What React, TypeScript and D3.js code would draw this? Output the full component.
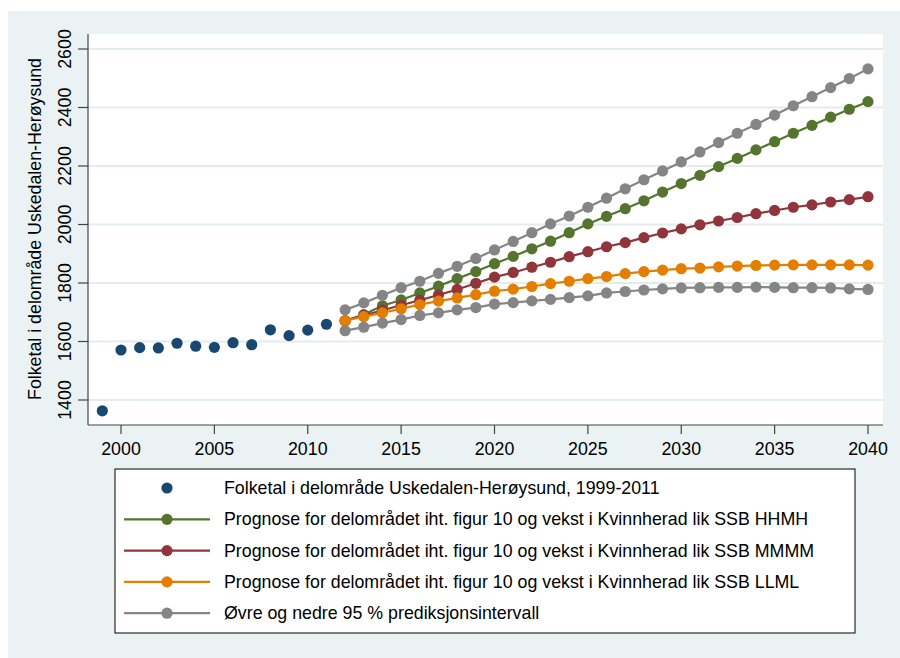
import React from "react";
import * as d3 from "d3";

const obsYears = [1999, 2000, 2001, 2002, 2003, 2004, 2005, 2006, 2007, 2008, 2009, 2010, 2011];
const obsValues = [1363, 1571, 1579, 1578, 1594, 1584, 1580, 1596, 1589, 1640, 1620, 1639, 1659];

const projYears = d3.range(2012, 2041);
const hhmh = [1671, 1692, 1722, 1742, 1766, 1789, 1815, 1839, 1866, 1891, 1917, 1943, 1972, 2002, 2028, 2054, 2081, 2111, 2140, 2168, 2198, 2226, 2255, 2283, 2312, 2339, 2367, 2394, 2420];
const mmmm = [1671, 1689, 1707, 1724, 1741, 1759, 1778, 1799, 1820, 1836, 1854, 1871, 1890, 1907, 1924, 1938, 1955, 1971, 1985, 1999, 2012, 2024, 2037, 2048, 2059, 2067, 2077, 2085, 2095];
const llml = [1671, 1685, 1698, 1712, 1726, 1738, 1749, 1760, 1772, 1779, 1788, 1798, 1806, 1815, 1822, 1832, 1839, 1844, 1849, 1851, 1855, 1858, 1860, 1861, 1862, 1862, 1862, 1862, 1861];
const upper = [1708, 1732, 1758, 1784, 1806, 1833, 1857, 1884, 1913, 1942, 1972, 2002, 2029, 2059, 2090, 2122, 2153, 2183, 2214, 2248, 2280, 2312, 2342, 2374, 2406, 2437, 2468, 2499, 2532];
const lower = [1637, 1649, 1663, 1675, 1689, 1698, 1708, 1716, 1728, 1733, 1739, 1744, 1750, 1756, 1766, 1771, 1776, 1780, 1783, 1784, 1785, 1785, 1786, 1785, 1784, 1784, 1783, 1780, 1778];

const xTicks = [2000, 2005, 2010, 2015, 2020, 2025, 2030, 2035, 2040];
const yTicks = [1400, 1600, 1800, 2000, 2200, 2400, 2600];

const yTitle = "Folketal i delområde Uskedalen-Herøysund";
const legendLabels = [
  "Folketal i delområde Uskedalen-Herøysund, 1999-2011",
  "Prognose for delområdet iht. figur 10 og vekst i Kvinnherad lik SSB HHMH",
  "Prognose for delområdet iht. figur 10 og vekst i Kvinnherad lik SSB MMMM",
  "Prognose for delområdet iht. figur 10 og vekst i Kvinnherad lik SSB LLML",
  "Øvre og nedre 95 % prediksjonsintervall",
];

const NAVY = "#1a476f";
const GREEN = "#55752f";
const RED = "#90353b";
const ORANGE = "#e37e00";
const GREY = "#858585";
const BG = "#eaf2f3";
const GRID = "#e3ebed";
const FONT = "'Liberation Sans', Arial, Helvetica, sans-serif";
const FS = 17.8;

export default function App() {
  const W = 900, H = 658;
  const plot = { left: 88, right: 883, top: 34, bottom: 425 };
  const x = d3.scaleLinear().domain([2000, 2040]).range([121, 868]);
  const y = d3.scaleLinear().domain([1400, 2600]).range([400, 49]);
  const line = d3.line<[number, number]>().x((d) => x(d[0])).y((d) => y(d[1]));

  const series = [
    { vals: hhmh, color: GREEN },
    { vals: mmmm, color: RED },
    { vals: llml, color: ORANGE },
    { vals: upper, color: GREY },
    { vals: lower, color: GREY },
  ];
  const r = 5.6;

  const legendColors = [NAVY, GREEN, RED, ORANGE, GREY];
  const lg = { left: 115, right: 855, top: 469, bottom: 633 };
  const rowY = (i: number) => 488 + i * 31.3;

  return (
    <svg width={W} height={H} style={{ position: "absolute", left: 0, top: 0 }} fontFamily={FONT}>
      <rect x={8} y={11} width={W - 8} height={H - 11} fill={BG} />
      <rect x={plot.left} y={plot.top} width={plot.right - plot.left} height={plot.bottom - plot.top} fill="#ffffff" />
      {yTicks.map((t) => (
        <line key={"g" + t} x1={plot.left} x2={plot.right} y1={y(t)} y2={y(t)} stroke={GRID} strokeWidth={2} />
      ))}
      {/* axes */}
      <line x1={plot.left} x2={plot.left} y1={plot.top} y2={plot.bottom} stroke="#444" strokeWidth={1.2} />
      <line x1={plot.left} x2={plot.right} y1={plot.bottom} y2={plot.bottom} stroke="#444" strokeWidth={1.2} />
      {yTicks.map((t) => (
        <g key={"yt" + t}>
          <line x1={plot.left - 10} x2={plot.left} y1={y(t)} y2={y(t)} stroke="#444" strokeWidth={1.2} />
          <text transform={`translate(71,${y(t)}) rotate(-90)`} textAnchor="middle" fontSize={FS} fill="#000">
            {t}
          </text>
        </g>
      ))}
      {xTicks.map((t) => (
        <g key={"xt" + t}>
          <line x1={x(t)} x2={x(t)} y1={plot.bottom} y2={plot.bottom + 9} stroke="#444" strokeWidth={1.2} />
          <text x={x(t)} y={455} textAnchor="middle" fontSize={FS} fill="#000">
            {t}
          </text>
        </g>
      ))}
      <text transform={`translate(41,229) rotate(-90)`} textAnchor="middle" fontSize={FS} fill="#000">
        {yTitle}
      </text>

      {/* observed */}
      {obsYears.map((yr, i) => (
        <circle key={"o" + yr} cx={x(yr)} cy={y(obsValues[i])} r={r} fill={NAVY} />
      ))}

      {/* projections */}
      {series.map((s, si) => (
        <g key={"s" + si}>
          <path d={line(projYears.map((yr, i) => [yr, s.vals[i]]) as [number, number][]) || ""} fill="none" stroke={s.color} strokeWidth={2.2} />
          {projYears.map((yr, i) => (
            <circle key={yr} cx={x(yr)} cy={y(s.vals[i])} r={r} fill={s.color} />
          ))}
        </g>
      ))}

      {/* legend */}
      <rect x={lg.left} y={lg.top} width={lg.right - lg.left} height={lg.bottom - lg.top} fill="#fff" stroke="#000" strokeWidth={1} />
      {legendLabels.map((lab, i) => (
        <g key={"l" + i}>
          {i > 0 && <line x1={124} x2={210} y1={rowY(i)} y2={rowY(i)} stroke={legendColors[i]} strokeWidth={2.2} />}
          <circle cx={167} cy={rowY(i)} r={r} fill={legendColors[i]} />
          <text x={224} y={rowY(i) + 6} fontSize={FS} fill="#000">
            {lab}
          </text>
        </g>
      ))}
    </svg>
  );
}
